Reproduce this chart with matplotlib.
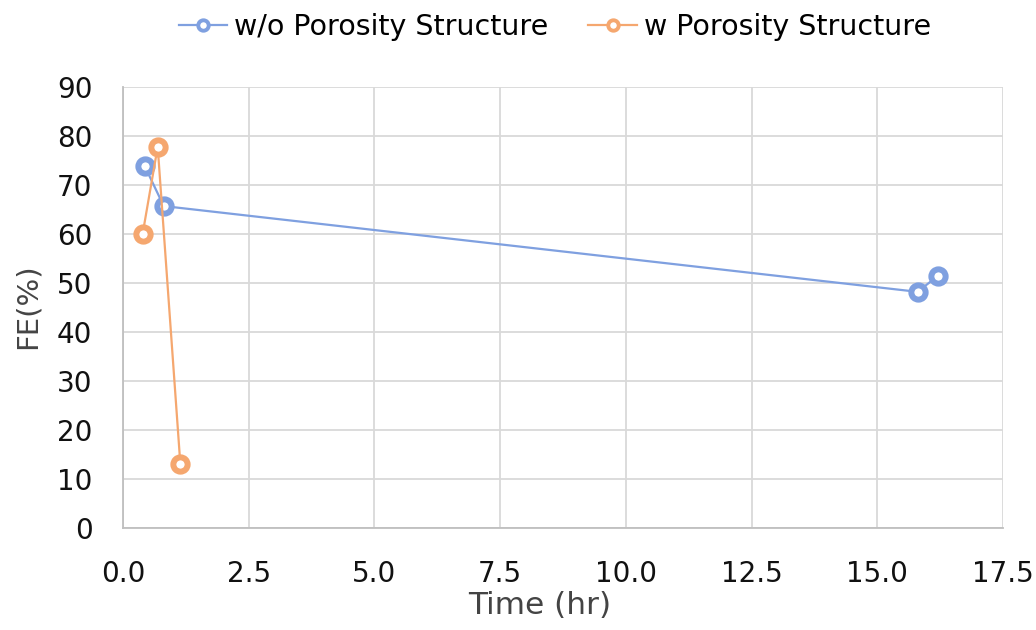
import matplotlib
matplotlib.use('Agg')
from matplotlib import pyplot as plt
from matplotlib.ticker import MultipleLocator, FormatStrFormatter

# time (hr) and FE (%)
time_wo = [0.43, 0.81, 15.8, 16.2]
fe_wo = [73.9, 65.7, 48.2, 51.4]
time_w = [0.39, 0.69, 1.14]
fe_w = [60.0, 77.8, 13.1]

blue = '#7fa0e0'
orange = '#f5a76f'

plt.rcParams['font.family'] = ['DejaVu Sans']

fig = plt.figure(figsize=(10.36, 6.30), dpi=100)
ax = fig.add_axes([123 / 1036, 1 - 528 / 630, 880 / 1036, 441 / 630])

ax.plot(time_wo, fe_wo, color=blue, lw=1.6, marker='o', ms=10.3, mew=4.3,
        mfc='white', mec=blue, label='w/o Porosity Structure', zorder=3)
ax.plot(time_w, fe_w, color=orange, lw=1.6, marker='o', ms=10.3, mew=4.3,
        mfc='white', mec=orange, label='w Porosity Structure', zorder=3)

ax.set_xlim(0, 17.5)
ax.set_ylim(0, 90)
ax.xaxis.set_major_locator(MultipleLocator(2.5))
ax.xaxis.set_major_formatter(FormatStrFormatter('%.1f'))
ax.yaxis.set_major_locator(MultipleLocator(10))
ax.grid(True, color='#d9d9d9', lw=1.3)
ax.set_axisbelow(True)
for side in ['top', 'right']:
    ax.spines[side].set_visible(False)
for side in ['left', 'bottom']:
    ax.spines[side].set_color('#bfbfbf')
    ax.spines[side].set_linewidth(1.3)
ax.tick_params(length=0, labelsize=20, colors='#111111')
ax.tick_params(axis='x', pad=23)
ax.tick_params(axis='y', pad=22)

ax.set_xlabel('Time (hr)', fontsize=22.5, color='#444444', va='center')
ax.xaxis.set_label_coords((540 - 123) / 880, (528 - 605) / 441)
ax.set_ylabel('FE(%)', fontsize=21, color='#444444', va='center')
ax.yaxis.set_label_coords((28 - 123) / 880, (528 - 306) / 441)

leg = ax.legend(loc='center', bbox_to_anchor=((555 - 123) / 880, (528 - 27) / 441),
                ncol=2, frameon=False, fontsize=20.5, handlelength=1.7,
                columnspacing=1.4, handletextpad=0.25, borderaxespad=0)
# smaller rings in the legend, with a visible hole
for h in leg.legend_handles:
    h.set_markersize(7.5)
    h.set_markeredgewidth(2.8)

fig.savefig('out.png', dpi=100)
